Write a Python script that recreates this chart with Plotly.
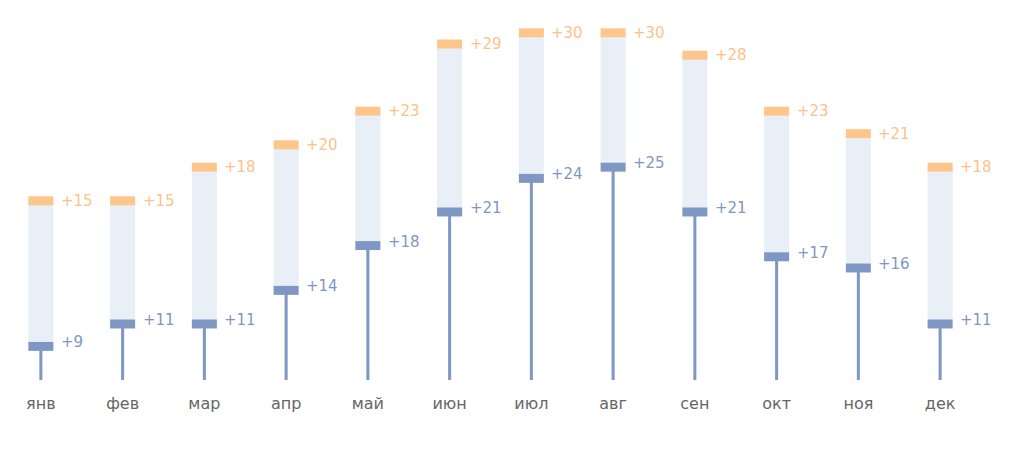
import plotly.graph_objects as go

months = ["янв", "фев", "мар", "апр", "май", "июн", "июл", "авг", "сен", "окт", "ноя", "дек"]
t_min = [9, 11, 11, 14, 18, 21, 24, 25, 21, 17, 16, 11]
t_max = [15, 15, 18, 20, 23, 29, 30, 30, 28, 23, 21, 18]
min_labels = [f"+{v}" for v in t_min]
max_labels = [f"+{v}" for v in t_max]

# layout constants
BASE = 6          # value at which stems start (bottom of plot area)
TOP = 38.14       # top of the value axis
MAX_SHIFT = 7     # the max markers sit on a second axis shifted by this amount
CAP = 0.8         # thickness of the markers (axis units)
BAR_W = 0.306
STEM_W = 0.037
X_PAD = 0.098     # compensates the page's body margin

BLUE = "#7f97c3"
ORANGE = "#ffc68c"
BOX = "#e9eff6"
BLUE_TXT = "#7f97c3"
ORANGE_TXT = "#fdc28a"

fig = go.Figure()

# light box between min and max
fig.add_trace(go.Bar(
    x=months, base=t_min, y=[mx + MAX_SHIFT - mn for mn, mx in zip(t_min, t_max)],
    width=BAR_W, marker=dict(color=BOX, line=dict(width=0)), yaxis="y",
    hoverinfo="skip"))

# stems from base to min
fig.add_trace(go.Bar(
    x=months, base=[BASE] * len(months), y=[mn - BASE for mn in t_min],
    width=STEM_W, marker=dict(color=BLUE, line=dict(width=0)), yaxis="y",
    hoverinfo="skip"))

# min markers
fig.add_trace(go.Bar(
    x=months, base=[mn - CAP / 2 for mn in t_min], y=[CAP] * len(months),
    width=BAR_W, marker=dict(color=BLUE, line=dict(width=0)), yaxis="y",
    hoverinfo="skip"))

# max markers
fig.add_trace(go.Bar(
    x=months, base=[mx - CAP / 2 for mx in t_max], y=[CAP] * len(months),
    width=BAR_W, marker=dict(color=ORANGE, line=dict(width=0)), yaxis="y2",
    hoverinfo="skip"))

annotations = []
for m, mn, lab in zip(months, t_min, min_labels):
    annotations.append(dict(x=m, y=mn, xref="x", yref="y", text=lab, showarrow=False,
                            xanchor="left", yanchor="middle", xshift=18, yshift=4,
                            font=dict(family="DejaVu Sans", size=15, color=BLUE_TXT)))
for m, mx, lab in zip(months, t_max, max_labels):
    annotations.append(dict(x=m, y=mx, xref="x", yref="y2", text=lab, showarrow=False,
                            xanchor="left", yanchor="middle", xshift=18, yshift=0,
                            font=dict(family="DejaVu Sans", size=15, color=ORANGE_TXT)))

fig.update_layout(
    width=1024, height=453,
    margin=dict(l=0, r=43, t=12, b=81),
    paper_bgcolor="white", plot_bgcolor="white",
    barmode="overlay", showlegend=False,
    xaxis=dict(type="category", range=[-0.5 + X_PAD, 11.5 + X_PAD], showgrid=False,
               zeroline=False, showline=False, ticks="outside", ticklen=9,
               tickcolor="rgba(0,0,0,0)",
               tickfont=dict(family="DejaVu Sans", size=16, color="#666666")),
    yaxis=dict(range=[BASE, TOP], visible=False, showgrid=False, zeroline=False),
    yaxis2=dict(range=[BASE - MAX_SHIFT, TOP - MAX_SHIFT], overlaying="y", visible=False,
                showgrid=False, zeroline=False),
    annotations=annotations,
)

fig.write_html("out.html")
